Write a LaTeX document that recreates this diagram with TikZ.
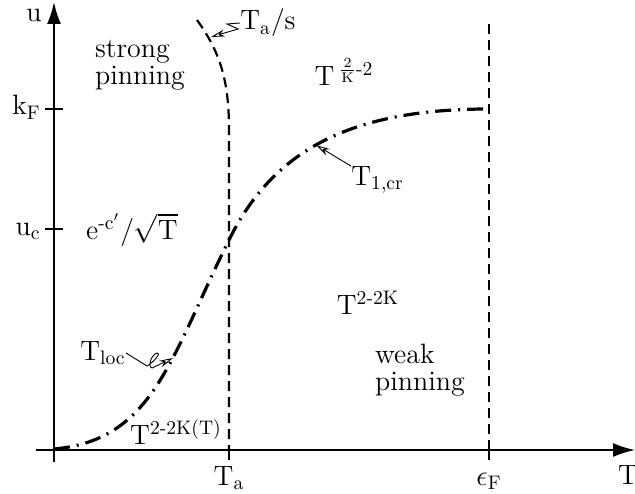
\documentclass[tikz,border=0pt]{standalone}
\usepackage{fontspec}
\usepackage{amsmath}
\usetikzlibrary{arrows.meta}

\tikzset{
  axis/.style={line width=1pt, -{Latex[length=11pt,width=7pt]}},
  tick/.style={line width=1pt},
  phaseline/.style={line width=1.1pt, dash pattern=on 5pt off 3pt},
  crossover/.style={line width=1.6pt, dash pattern=on 8pt off 3.5pt on 1pt off 3.5pt},
  pointer/.style={line width=0.45pt, -{Stealth[open,length=7pt,width=3.5pt]}},
  lbl/.style={font=\fontsize{14}{15.5}\selectfont, inner sep=0pt},
}

\begin{document}
\begin{tikzpicture}[x=0.5pt,y=0.5pt]
\useasboundingbox (-54,-43) rectangle (581,450);

% Axes
\draw[axis] (-18,0) -- (581,0);
\draw[axis] (0,-12) -- (0,448);
\node[lbl, anchor=base east] (ulab) at (-12,428) {u};
\node[lbl, anchor=base] (Tlab) at (574,-34) {T};

% Ticks on u axis
\draw[tick] (-9,341) -- (9,341);
\draw[tick] (-9,221) -- (9,221);
\node[lbl, anchor=base east] (kF) at (-13,335) {k\textsubscript{F}};
\node[lbl, anchor=base east] (uc) at (-13,215) {u\textsubscript{c}};

% Ticks on T axis
\draw[tick] (175,0) -- (175,-10);
\draw[tick] (435,0) -- (435,-10);
\node[lbl, anchor=base] (Ta) at (175,-35) {T\textsubscript{a}};
\node[lbl, anchor=base] (eF) at (435,-35) {$\epsilon$\textsubscript{F}};

% Phase boundaries
\draw[phaseline] (143,430) .. controls (166,398) and (175,370) .. (175,320) -- (175,0);
\draw[phaseline] (435,0) -- (435,427);
\coordinate (tipTs) at (157,413);

% Crossover line
\draw[crossover] (0,1) .. controls (100,10) and (116,92) .. (176,212)
  .. controls (221,302) and (300,341) .. (435,341);
\coordinate (tipLoc) at (119,92);
\coordinate (tipCr) at (262,305);

% Region labels
\node[lbl, align=left] (strong) at (86,385) {strong\\[-2pt]pinning};
\node[lbl, align=left] (weak) at (366,80) {weak\\[-2pt]pinning};
\node[lbl] (powA) at (290,378) {T\,$^{\frac{\text{2}}{\text{K}}\text{-2}}$};
\node[lbl] (expo) at (78,220) {e\textsuperscript{-c$'$}/$\sqrt{\text{T}}$};
\node[lbl] (powB) at (314,147) {T\textsuperscript{2-2K}};
\node[lbl] (powC) at (122,18) {T\textsuperscript{2-2K(T)}};

% Line labels
\node[lbl, anchor=west] (Ts) at (186,427) {T\textsubscript{a}/s};
\node[lbl, anchor=east] (Tloc) at (72,97) {T\textsubscript{loc}};
\node[lbl, anchor=west] (Tcr) at (297,270) {T\textsubscript{1,cr}};

\draw[pointer] (Ts.west) -- (173,426) -- (184,421) -- (tipTs);
\draw[pointer] (Tloc.east) -- (93,84) .. controls (100,88) and (108,98) .. (103,97)
  .. controls (98,96) and (93,84) .. (98,82) -- (tipLoc);
\draw[pointer] (Tcr.north west) -- (tipCr);
\end{tikzpicture}
\end{document}
